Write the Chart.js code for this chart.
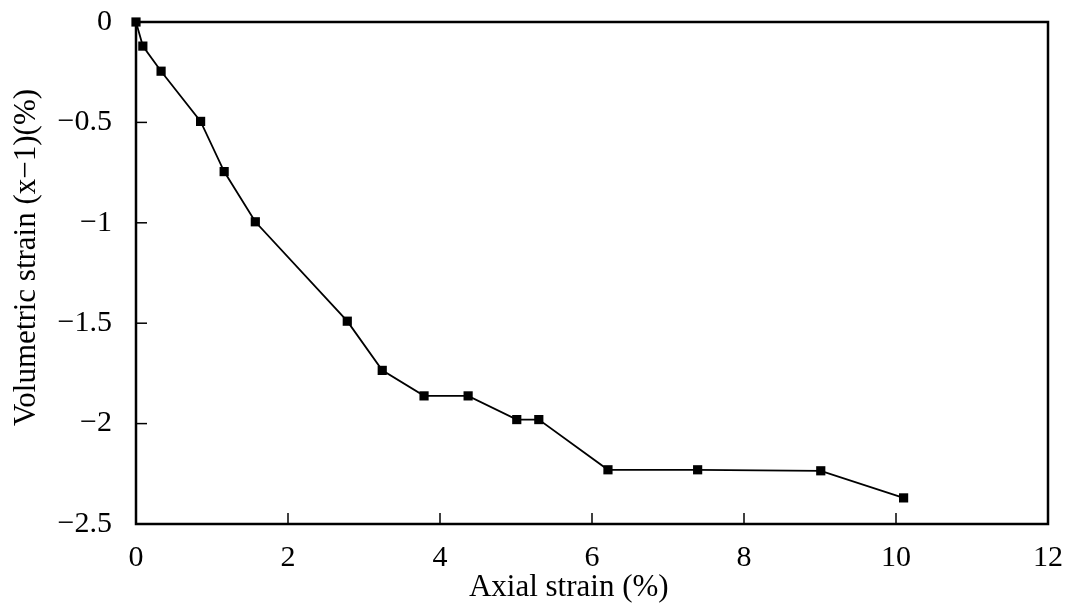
<!DOCTYPE html>
<html>
<head>
<meta charset="utf-8">
<script src="https://cdn.jsdelivr.net/npm/chart.js@4/dist/chart.umd.min.js"></script>
<style>
  html, body { margin: 0; padding: 0; background: #fff; }
  #wrap { width: 1071px; height: 606px; }
</style>
</head>
<body>
<div id="wrap"><canvas id="myChart"></canvas></div>
<script>
// axial strain (%) and volumetric strain (%) readings
var axialStrain = [0, 0.09, 0.33, 0.85, 1.16, 1.57, 2.78, 3.24, 3.79, 4.37, 5.01, 5.30, 6.21, 7.39, 9.01, 10.10];
var volStrain = [0, -0.12, -0.245, -0.495, -0.745, -0.995, -1.49, -1.735, -1.862, -1.862, -1.98, -1.98, -2.23, -2.23, -2.235, -2.37];
var xTicks = [0, 2, 4, 6, 8, 10, 12];
var yTicks = [0, -0.5, -1, -1.5, -2, -2.5];

var points = axialStrain.map(function (x, i) { return {x: x, y: volStrain[i]}; });

function minus(v) {
  return v < 0 ? '\u2212' + String(-v) : String(v);
}

// pad a title with no-break spaces so it sits off-centre
function pad(n) {
  return new Array(n + 1).join('\u00a0');
}

/* Frame around the plot and inward tick marks */
var frame = {
  id: 'frame',
  afterDatasetsDraw: function (chart) {
    var ctx = chart.ctx, a = chart.chartArea;
    var xs = chart.scales.x, ys = chart.scales.y;
    ctx.save();
    ctx.strokeStyle = '#000';
    ctx.lineWidth = 1.5;
    xTicks.forEach(function (t) {
      var px = xs.getPixelForValue(t);
      ctx.beginPath();
      ctx.moveTo(px, a.bottom);
      ctx.lineTo(px, a.bottom - 11);
      ctx.stroke();
    });
    yTicks.forEach(function (t) {
      var py = ys.getPixelForValue(t);
      ctx.beginPath();
      ctx.moveTo(a.left, py);
      ctx.lineTo(a.left + 11, py);
      ctx.stroke();
    });
    ctx.lineWidth = 2.5;
    ctx.strokeRect(a.left, a.top, a.right - a.left, a.bottom - a.top);
    ctx.restore();
  }
};

var ctx = document.getElementById('myChart').getContext('2d');
var chart = new Chart(ctx, {
  type: 'scatter',
  data: {
    datasets: [{
      data: points,
      showLine: true,
      borderColor: '#000',
      backgroundColor: '#000',
      borderWidth: 1.8,
      pointStyle: 'rect',
      pointRadius: 6.5,
      pointHoverRadius: 6.5,
      pointBackgroundColor: '#000',
      pointBorderColor: '#000',
      pointBorderWidth: 0,
      clip: false
    }]
  },
  options: {
    responsive: true,
    maintainAspectRatio: false,
    animation: false,
    layout: { padding: { top: 22, right: 23, left: 0, bottom: 0 } },
    plugins: {
      legend: { display: false },
      tooltip: { enabled: false }
    },
    scales: {
      x: {
        type: 'linear',
        min: 0,
        max: 12,
        afterBuildTicks: function (s) { s.ticks = xTicks.map(function (v) { return {value: v}; }); },
        afterFit: function (s) { s.height = 82; s.paddingLeft = 0; s.paddingRight = 0; },
        grid: { display: false },
        border: { display: false },
        ticks: {
          color: '#000',
          padding: 8,
          font: { family: 'Liberation Serif', size: 30 },
          maxRotation: 0,
          callback: function (v) { return minus(v); }
        },
        title: {
          display: true,
          text: 'Axial strain (%)' + pad(6),
          color: '#000',
          padding: { top: 0, bottom: 0 },
          font: { family: 'Liberation Serif', size: 31 }
        }
      },
      y: {
        type: 'linear',
        min: -2.5,
        max: 0,
        afterBuildTicks: function (s) { s.ticks = yTicks.map(function (v) { return {value: v}; }); },
        afterFit: function (s) { s.width = 136; s.paddingTop = 0; s.paddingBottom = 0; },
        grid: { display: false },
        border: { display: false },
        ticks: {
          color: '#000',
          padding: 16,
          font: { family: 'Liberation Serif', size: 30 },
          callback: function (v) { return minus(v); }
        },
        title: {
          display: true,
          text: pad(4) + 'Volumetric strain (x\u22121)(%)',
          color: '#000',
          padding: { top: 8, bottom: 0 },
          font: { family: 'Liberation Serif', size: 31 }
        }
      }
    }
  },
  plugins: [frame]
});
</script>
</body>
</html>
